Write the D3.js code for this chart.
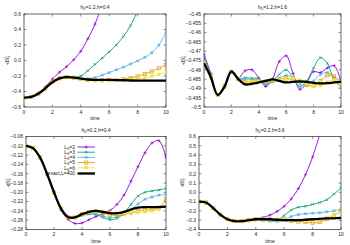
<!DOCTYPE html>
<html>
<head>
<meta charset="utf-8">
<script src="https://cdn.jsdelivr.net/npm/d3@7"></script>
<style>
  body { margin: 0; background: #fff; }
  text { font-family: "Liberation Sans", Arial, sans-serif; fill: #222; }
</style>
</head>
<body>
<div id="chart"></div>
<script>
// time grid
var time = [0,0.5,1,1.5,2,2.5,3,3.5,4,4.5,5,5.5,6,6.5,7,7.5,8,8.5,9,9.5,10];
var xTicks = [0,2,4,6,8,10];
var legendNames = ["2","3","4","5","6"];
var exactName = "exact,L=400";

// top left: hD=1.2, h=0.4
var tlTitle = ["1.2","0.4"];
var tlTicks = [-0.6,-0.4,-0.2,0,0.2,0.4,0.6];
var tlL2 = [-0.48,-0.47,-0.42,-0.34,-0.24,-0.15,-0.08,0.01,0.12,0.28,0.47,0.72,null,null,null,null,null,null,null,null,null];
var tlL3 = [-0.48,-0.47,-0.43,-0.36,-0.28,-0.225,-0.21,-0.21,-0.2,-0.13,-0.05,0.03,0.11,0.2,0.31,0.45,0.64,null,null,null,null];
var tlL4 = [-0.48,-0.47,-0.43,-0.36,-0.28,-0.23,-0.215,-0.22,-0.23,-0.235,-0.22,-0.19,-0.155,-0.12,-0.085,-0.045,-0.005,0.04,0.1,0.2,0.36];
var tlL5 = [-0.48,-0.47,-0.43,-0.36,-0.28,-0.23,-0.215,-0.225,-0.24,-0.25,-0.255,-0.255,-0.25,-0.25,-0.24,-0.225,-0.205,-0.175,-0.14,-0.1,-0.06];
var tlL6 = [-0.48,-0.47,-0.43,-0.36,-0.28,-0.23,-0.22,-0.225,-0.24,-0.25,-0.255,-0.257,-0.257,-0.255,-0.25,-0.245,-0.24,-0.225,-0.2,-0.18,-0.155];
var tlExact = [-0.48,-0.47,-0.43,-0.36,-0.28,-0.23,-0.215,-0.22,-0.235,-0.245,-0.25,-0.25,-0.25,-0.252,-0.255,-0.258,-0.26,-0.26,-0.26,-0.26,-0.26];

// top right: hD=1.2, h=1.6
var trTitle = ["1.2","1.6"];
var trTicks = [-0.5,-0.495,-0.49,-0.485,-0.48,-0.475,-0.47,-0.465,-0.46,-0.455,-0.45];
var trL2 = [-0.4717,-0.482,-0.4935,-0.4885,-0.4815,-0.4845,-0.4805,-0.48,-0.4845,-0.489,-0.485,-0.4755,-0.4725,-0.482,-0.4905,-0.487,-0.481,-0.4815,-0.479,-0.4778,-0.4865];
var trL3 = [-0.4735,-0.4825,-0.4935,-0.4885,-0.4815,-0.485,-0.4843,-0.4845,-0.4848,-0.488,-0.486,-0.4825,-0.48,-0.4845,-0.489,-0.486,-0.479,-0.4735,-0.4765,-0.4855,-0.489];
var trL4 = [-0.4755,-0.483,-0.4935,-0.4888,-0.4812,-0.485,-0.485,-0.4852,-0.4855,-0.4875,-0.4865,-0.4845,-0.483,-0.4845,-0.4875,-0.4885,-0.486,-0.4825,-0.4815,-0.484,-0.4875];
var trL5 = [-0.476,-0.4835,-0.4935,-0.489,-0.481,-0.485,-0.4865,-0.4858,-0.486,-0.4865,-0.486,-0.4852,-0.4845,-0.4855,-0.486,-0.488,-0.4885,-0.486,-0.483,-0.4835,-0.4865];
var trL6 = [-0.4765,-0.4838,-0.4935,-0.489,-0.4809,-0.485,-0.487,-0.4865,-0.4862,-0.4858,-0.4855,-0.4855,-0.4855,-0.4845,-0.4855,-0.4875,-0.489,-0.4885,-0.4865,-0.4855,-0.4875];
var trExact = [-0.4765,-0.484,-0.4935,-0.489,-0.4808,-0.485,-0.4878,-0.4875,-0.4868,-0.486,-0.4852,-0.486,-0.4868,-0.4865,-0.4862,-0.4865,-0.487,-0.4873,-0.4872,-0.4868,-0.4865];

// bottom left: hD=0.2, h=0.4
var blTitle = ["0.2","0.4"];
var blTicks = [-0.28,-0.26,-0.24,-0.22,-0.2,-0.18,-0.16,-0.14,-0.12,-0.1,-0.08];
var blL2 = [-0.1,-0.105,-0.125,-0.16,-0.2,-0.238,-0.258,-0.267,-0.266,-0.259,-0.252,-0.246,-0.239,-0.226,-0.206,-0.176,-0.145,-0.115,-0.094,-0.089,-0.125];
var blL3 = [-0.1,-0.105,-0.125,-0.16,-0.2,-0.236,-0.255,-0.255,-0.25,-0.247,-0.248,-0.254,-0.259,-0.256,-0.245,-0.226,-0.208,-0.2,-0.197,-0.195,-0.192];
var blL4 = [-0.1,-0.105,-0.125,-0.16,-0.2,-0.235,-0.253,-0.254,-0.248,-0.244,-0.246,-0.251,-0.255,-0.253,-0.245,-0.237,-0.225,-0.215,-0.21,-0.206,-0.205];
var blL5 = [-0.1,-0.105,-0.125,-0.16,-0.2,-0.235,-0.253,-0.254,-0.247,-0.242,-0.241,-0.245,-0.248,-0.25,-0.247,-0.244,-0.24,-0.238,-0.237,-0.233,-0.215];
var blL6 = [-0.1,-0.105,-0.125,-0.16,-0.2,-0.235,-0.253,-0.254,-0.247,-0.242,-0.24,-0.241,-0.243,-0.245,-0.245,-0.243,-0.243,-0.242,-0.24,-0.237,-0.228];
var blExact = [-0.1,-0.105,-0.125,-0.16,-0.2,-0.235,-0.253,-0.254,-0.247,-0.242,-0.24,-0.242,-0.245,-0.245,-0.242,-0.237,-0.233,-0.232,-0.232,-0.232,-0.231];

// bottom right: hD=0.2, h=3.6
var brTitle = ["0.2","3.6"];
var brTicks = [-0.4,-0.3,-0.2,-0.1,0,0.1,0.2,0.3,0.4,0.5,0.6];
var brL2 = [-0.1,-0.11,-0.17,-0.24,-0.29,-0.31,-0.305,-0.295,-0.285,-0.27,-0.245,-0.205,-0.15,-0.07,0.04,0.19,0.38,0.62,null,null,null];
var brL3 = [-0.1,-0.11,-0.17,-0.24,-0.29,-0.31,-0.31,-0.3,-0.295,-0.295,-0.3,-0.3,-0.25,-0.19,-0.16,-0.15,-0.13,-0.11,-0.08,-0.02,0.05];
var brL4 = [-0.1,-0.11,-0.17,-0.24,-0.29,-0.31,-0.31,-0.3,-0.295,-0.3,-0.31,-0.315,-0.3,-0.26,-0.24,-0.23,-0.225,-0.22,-0.21,-0.2,-0.18];
var brL5 = [-0.1,-0.11,-0.17,-0.24,-0.29,-0.31,-0.31,-0.3,-0.29,-0.29,-0.29,-0.295,-0.29,-0.31,-0.315,-0.32,-0.33,-0.32,-0.29,-0.25,-0.2];
var brL6 = [-0.1,-0.11,-0.17,-0.24,-0.29,-0.31,-0.31,-0.3,-0.29,-0.29,-0.29,-0.295,-0.3,-0.3,-0.3,-0.3,-0.3,-0.29,-0.27,-0.24,-0.22];
var brExact = [-0.1,-0.11,-0.17,-0.24,-0.29,-0.31,-0.31,-0.3,-0.29,-0.29,-0.29,-0.295,-0.3,-0.3,-0.3,-0.295,-0.29,-0.285,-0.28,-0.28,-0.275];

var colors = ["#9400d3","#009e73","#56b4e9","#e69f00","#f0e442"];
var markers = ["plus","cross","star","box","fbox"];

var panels = [
  {title: tlTitle, ticks: tlTicks, fmt: d3.format(".1f"), series: [tlL2,tlL3,tlL4,tlL5,tlL6], exact: tlExact, x0: 24, x1: 166, y0: 14, y1: 107, lx: 7, legend: false},
  {title: trTitle, ticks: trTicks, fmt: d3.format(".3~f"), series: [trL2,trL3,trL4,trL5,trL6], exact: trExact, x0: 204, x1: 341, y0: 14, y1: 107, lx: 183, legend: false},
  {title: blTitle, ticks: blTicks, fmt: d3.format(".2f"), series: [blL2,blL3,blL4,blL5,blL6], exact: blExact, x0: 26, x1: 166, y0: 136.5, y1: 229.5, lx: 8, legend: true},
  {title: brTitle, ticks: brTicks, fmt: d3.format(".1f"), series: [brL2,brL3,brL4,brL5,brL6], exact: brExact, x0: 199, x1: 341, y0: 136.5, y1: 229.5, lx: 182, legend: false}
];

var svg = d3.select("#chart").append("svg").attr("width", 350).attr("height", 245);

function drawMarker(g, type, x, y, c) {
  var s = 1.6;
  if (type == "plus" || type == "star") {
    g.append("path").attr("d", "M" + (x - s) + "," + y + "H" + (x + s) + "M" + x + "," + (y - s) + "V" + (y + s))
      .attr("stroke", c).attr("stroke-width", 0.7);
  }
  if (type == "cross" || type == "star") {
    var k = s * 0.8;
    g.append("path").attr("d", "M" + (x - k) + "," + (y - k) + "L" + (x + k) + "," + (y + k) + "M" + (x - k) + "," + (y + k) + "L" + (x + k) + "," + (y - k))
      .attr("stroke", c).attr("stroke-width", 0.7);
  }
  if (type == "box") {
    g.append("rect").attr("x", x - s).attr("y", y - s).attr("width", 2 * s).attr("height", 2 * s)
      .attr("fill", "none").attr("stroke", c).attr("stroke-width", 0.7);
  }
  if (type == "fbox") {
    g.append("rect").attr("x", x - s).attr("y", y - s).attr("width", 2 * s).attr("height", 2 * s).attr("fill", c);
  }
}

panels.forEach(function (p, pi) {
  var x = d3.scaleLinear().domain([0, 10]).range([p.x0, p.x1]);
  var y = d3.scaleLinear().domain([p.ticks[0], p.ticks[p.ticks.length - 1]]).range([p.y1, p.y0]);
  var g = svg.append("g");

  svg.append("clipPath").attr("id", "clip" + pi).append("rect")
    .attr("x", p.x0).attr("y", p.y0).attr("width", p.x1 - p.x0).attr("height", p.y1 - p.y0);

  // ticks (mirrored) and labels
  p.ticks.forEach(function (t) {
    g.append("path").attr("d", "M" + p.x0 + "," + y(t) + "h2.5M" + p.x1 + "," + y(t) + "h-2.5")
      .attr("stroke", "#444").attr("stroke-width", 0.6);
    g.append("text").attr("x", p.x0 - 3).attr("y", y(t) + 1.8).attr("text-anchor", "end")
      .attr("font-size", 5).text(p.fmt(t));
  });
  xTicks.forEach(function (t) {
    g.append("path").attr("d", "M" + x(t) + "," + p.y1 + "v-2.5M" + x(t) + "," + p.y0 + "v2.5")
      .attr("stroke", "#444").attr("stroke-width", 0.6);
    g.append("text").attr("x", x(t)).attr("y", p.y1 + 6.5).attr("text-anchor", "middle")
      .attr("font-size", 5).text(t);
  });

  g.append("text").attr("x", (p.x0 + p.x1) / 2).attr("y", p.y1 + 13).attr("text-anchor", "middle")
    .attr("font-size", 5).text("time");

  var tt = g.append("text").attr("x", (p.x0 + p.x1) / 2).attr("y", p.y0 - 5).attr("text-anchor", "middle").attr("font-size", 5);
  tt.append("tspan").text("h");
  tt.append("tspan").attr("font-size", 3.5).attr("dy", 1).text("D");
  tt.append("tspan").attr("dy", -1).text("=" + p.title[0] + ",h=" + p.title[1]);

  var yl = g.append("text").attr("transform", "translate(" + (p.lx + 1.5) + "," + ((p.y0 + p.y1) / 2) + ") rotate(-90)")
    .attr("text-anchor", "middle").attr("font-size", 5);
  yl.append("tspan").text("-dS");
  yl.append("tspan").attr("font-size", 3.5).attr("dy", -1.6).text("L");
  yl.append("tspan").attr("font-size", 3.5).attr("dy", 2.8).attr("dx", -2).text("x");

  var plot = svg.append("g").attr("clip-path", "url(#clip" + pi + ")");
  var line = d3.line().defined(function (d) { return d[1] != null; })
    .x(function (d) { return x(d[0]); }).y(function (d) { return y(d[1]); })
    .curve(d3.curveCatmullRom);

  p.series.forEach(function (s, si) {
    var pts = time.map(function (t, i) { return [t, s[i]]; });
    plot.append("path").attr("d", line(pts)).attr("fill", "none")
      .attr("stroke", colors[si]).attr("stroke-width", 0.9);
    pts.forEach(function (d) {
      if (d[1] != null) drawMarker(plot, markers[si], x(d[0]), y(d[1]), colors[si]);
    });
  });
  var ex = time.map(function (t, i) { return [t, p.exact[i]]; });
  plot.append("path").attr("d", line(ex)).attr("fill", "none").attr("stroke", "#000").attr("stroke-width", 2.3);

  // frame
  g.append("rect").attr("x", p.x0).attr("y", p.y0).attr("width", p.x1 - p.x0).attr("height", p.y1 - p.y0)
    .attr("fill", "none").attr("stroke", "#444").attr("stroke-width", 0.8);

  if (p.legend) {
    var lg = svg.append("g");
    var tx = 75, s0 = 77.5, s1 = 95, ly = 147;
    legendNames.forEach(function (n, i) {
      var yy = ly + i * 5.2;
      var t = lg.append("text").attr("x", tx).attr("y", yy + 1.7).attr("text-anchor", "end").attr("font-size", 5);
      t.append("tspan").text("L");
      t.append("tspan").attr("font-size", 3.5).attr("dy", 1).text("S");
      t.append("tspan").attr("dy", -1).text("=" + n);
      lg.append("path").attr("d", "M" + s0 + "," + yy + "H" + s1).attr("stroke", colors[i]).attr("stroke-width", 0.9);
      drawMarker(lg, markers[i], (s0 + s1) / 2, yy, colors[i]);
    });
    var ye = ly + 5 * 5.2 + 0.5;
    lg.append("text").attr("x", tx).attr("y", ye + 1.7).attr("text-anchor", "end").attr("font-size", 5).text(exactName);
    lg.append("path").attr("d", "M" + s0 + "," + ye + "H" + s1).attr("stroke", "#000").attr("stroke-width", 2.3);
  }
});
</script>
</body>
</html>
